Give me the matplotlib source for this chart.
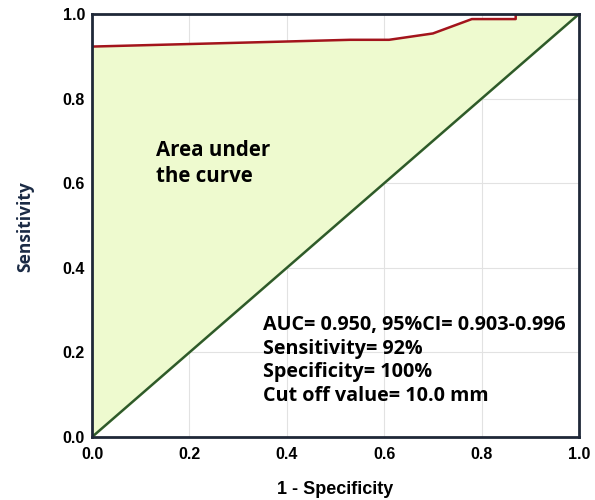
import matplotlib
matplotlib.use("Agg")
import matplotlib.pyplot as plt
import numpy as np

# ROC-kurva
fpr = [0.0, 0.20, 0.40, 0.53, 0.61, 0.70, 0.78, 0.87, 0.87, 1.0]
tpr = [0.923, 0.929, 0.935, 0.939, 0.939, 0.954, 0.988, 0.988, 1.0, 1.0]
ticks = [0.0, 0.2, 0.4, 0.6, 0.8, 1.0]
tick_labels = ["0.0", "0.2", "0.4", "0.6", "0.8", "1.0"]
stats_lines = ["AUC= 0.950, 95%CI= 0.903-0.996",
               "Sensitivity= 92%",
               "Specificity= 100%",
               "Cut off value= 10.0 mm"]

fig = plt.figure(figsize=(5.95, 5.0), dpi=100)
ax = fig.add_axes([92/595, 63/500, 487/595, 423/500])

x = np.array(fpr)
y = np.array(tpr)
ax.fill_between(x, x, y, color="#eefacf", zorder=1)
ax.plot([0, 1], [0, 1], color="#2e5a2a", lw=1.8, zorder=3)
ax.plot(x, y, color="#a3141c", lw=1.8, zorder=4)

ax.set_xlim(0, 1)
ax.set_ylim(0, 1)
ax.set_xticks(ticks)
ax.set_yticks(ticks)
ax.set_xticklabels(tick_labels, fontsize=11.5, fontweight="bold", family="Liberation Sans")
ax.set_yticklabels(tick_labels, fontsize=11.5, fontweight="bold", family="Liberation Sans")
ax.tick_params(axis="x", length=0, pad=7)
ax.tick_params(axis="y", length=0, pad=5)
ax.grid(True, color="#e2e2e2", lw=0.8, zorder=0)
ax.set_axisbelow(True)
for s in ax.spines.values():
    s.set_color("#1f2838")
    s.set_linewidth(2)
    s.set_zorder(5)

fig.text(335/595, 1 - 489/500, "1 - Specificity", ha="center", va="center",
         fontsize=13, fontweight="bold", family="Liberation Sans")
fig.text(25/595, 1 - 227/500, "Sensitivity", ha="center", va="center", rotation=90,
         fontsize=12.5, fontweight="bold", family="Open Sans", color="#1a2a44")

fig.text(156/595, 1 - 151/500, "Area under", ha="left", va="center",
         fontsize=14.8, fontweight="bold", family="Open Sans")
fig.text(156/595, 1 - 177/500, "the curve", ha="left", va="center",
         fontsize=14.8, fontweight="bold", family="Open Sans")

for i, line in enumerate(stats_lines):
    fig.text(263/595, 1 - (325 + i * 23.7)/500, line, ha="left", va="center",
             fontsize=14.2, fontweight="bold", family="Open Sans")

fig.savefig("out.png", dpi=100)
